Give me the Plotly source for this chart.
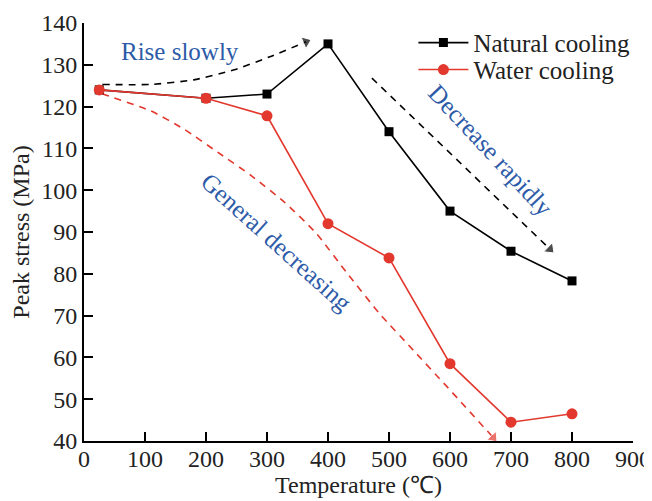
import plotly.graph_objects as go

# Data
temperature = [25, 200, 300, 400, 500, 600, 700, 800]
natural_cooling = [124, 122, 123, 135, 114, 95, 85.4, 78.3]
water_cooling = [124, 122, 117.8, 92, 83.8, 58.5, 44.5, 46.5]

# Guide (trend) curves
rise_x = [30, 109, 180, 246, 306, 364]
rise_y = [125.3, 125.3, 126.4, 128.8, 132.0, 135.5]
drop_x = [472, 764]
drop_y = [126.8, 85.9]
gen_x = [30, 41, 109, 164, 219, 273, 328, 380, 431, 485, 540, 595, 671]
gen_y = [123.1, 122.5, 119.0, 114.6, 109.1, 103.6, 97.2, 89.8, 80.2, 70.4, 61.7, 53.0, 40.8]

x_ticks = [0, 100, 200, 300, 400, 500, 600, 700, 800, 900]
y_ticks = [40, 50, 60, 70, 80, 90, 100, 110, 120, 130, 140]

FONT = "Liberation Serif"
RED = "#e2382e"
BLUE = "#2d5ba8"
TXT = "#222"
FS = 24

fig = go.Figure()

def guide(xs, ys, color, size):
    n = len(xs)
    fig.add_trace(go.Scatter(
        x=xs, y=ys, mode="lines+markers",
        line=dict(color=color, width=1.6, dash="7px,6px", shape="spline", smoothing=0.6),
        marker=dict(symbol="triangle-up", angleref="previous",
                    size=[0] * (n - 1) + [size], color=color),
        showlegend=False, hoverinfo="skip"))

guide(rise_x, rise_y, "black", 11)
guide(drop_x, drop_y, "black", 11)
guide(gen_x, gen_y, RED, 11)

fig.add_trace(go.Scatter(
    x=temperature, y=natural_cooling, mode="lines+markers", name="Natural cooling",
    line=dict(color="black", width=1.6), legend="legend",
    marker=dict(symbol="square", size=9, color="black")))
fig.add_trace(go.Scatter(
    x=temperature, y=water_cooling, mode="lines+markers", name="Water cooling",
    line=dict(color=RED, width=1.6), legend="legend2",
    marker=dict(symbol="circle", size=11, color=RED)))

fig.add_annotation(x=157, y=133.2, text="Rise slowly", showarrow=False,
                   font=dict(family=FONT, size=25, color=BLUE))
fig.add_annotation(x=667, y=109.5, text="Decrease rapidly", showarrow=False,
                   textangle=47, font=dict(family=FONT, size=25, color=BLUE))
fig.add_annotation(x=316, y=87.5, text="General decreasing", showarrow=False,
                   textangle=42, font=dict(family=FONT, size=25, color=BLUE))

axis_common = dict(
    showline=True, linecolor="black", linewidth=2,
    ticks="inside", ticklen=9, tickwidth=2, tickcolor="black",
    showgrid=False, zeroline=False, mirror=False, automargin=False,
    tickfont=dict(family=FONT, size=FS, color=TXT),
)
fig.update_xaxes(range=[0, 900], tickvals=x_ticks, ticklabelstandoff=-5,
                 title=dict(text="Temperature (℃)", font=dict(family=FONT, size=FS, color=TXT), standoff=0),
                 **axis_common)
fig.update_yaxes(range=[40, 140], tickvals=y_ticks,
                 title=dict(text="Peak stress (MPa)", font=dict(family=FONT, size=FS, color=TXT), standoff=6),
                 **axis_common)

legend_common = dict(x=0.6, xanchor="left", yanchor="middle",
                     font=dict(family=FONT, size=25, color=TXT),
                     bgcolor="rgba(0,0,0,0)", itemwidth=50)

fig.update_layout(
    width=644, height=493,
    margin=dict(l=76, r=19, t=12, b=60),
    plot_bgcolor="white", paper_bgcolor="white",
    font=dict(family=FONT, color=TXT),
    legend=dict(y=0.9525, **legend_common),
    legend2=dict(y=0.888, **legend_common),
)

fig.write_html("out.html")
